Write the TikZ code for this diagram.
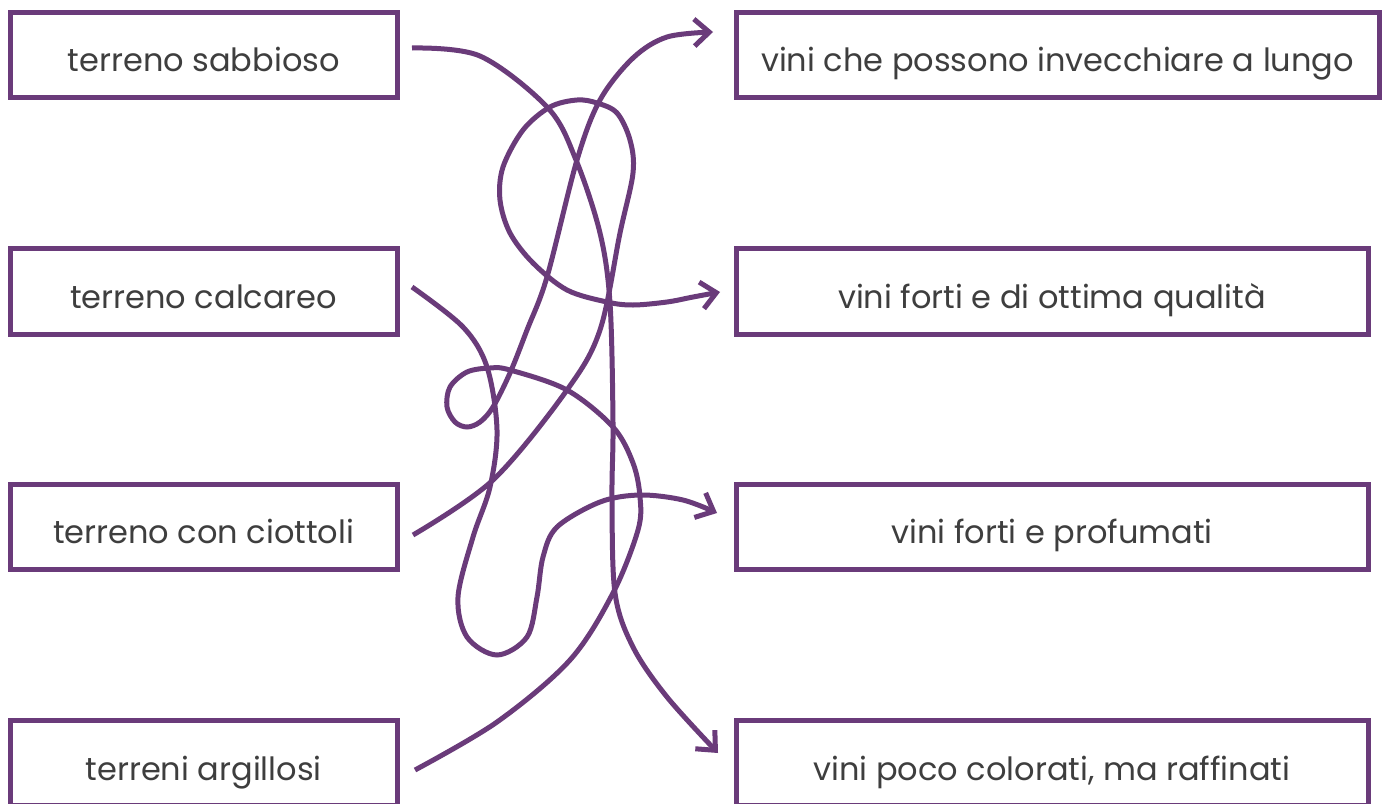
\documentclass[tikz,border=0pt]{standalone}
\usepackage{fontspec}
\setmainfont{Poppins}
\usetikzlibrary{arrows.meta}
\definecolor{plum}{HTML}{6A3B7A}
\definecolor{ink}{HTML}{3E3E3E}
\tikzset{
  box/.style={draw=plum, line width=5pt, rectangle, inner sep=0pt,
    minimum height=85.5pt, text height=34pt, text depth=0pt,
    text=ink, font=\fontsize{32}{38}\selectfont},
  leftbox/.style={box, minimum width=387.5pt},
  rightbox/.style={box, minimum width=632pt},
  link/.style={draw=plum, line width=5pt,
    -{Straight Barb[length=15pt, width=27pt, line join=miter]}},
}
\begin{document}
\begin{tikzpicture}[x=1pt, y=-1pt]
  \useasboundingbox (0,0) rectangle (1383,803);
  \fill[white] (0,0) rectangle (1383,803);

  % soils
  \node[leftbox] (sab) at (203.75,54.75) {terreno sabbioso};
  \node[leftbox] (cal) at (203.75,291.25) {terreno calcareo};
  \node[leftbox] (cio) at (203.75,526.75) {terreno con ciottoli};
  \node[leftbox] (arg) at (203.75,763) {terreni argillosi};

  % wines
  \node[rightbox, minimum width=643pt] (lun) at (1057.5,54.75) {vini che possono invecchiare a lungo};
  \node[rightbox] (ott) at (1052,291.25) {vini forti e di ottima qualità};
  \node[rightbox] (pro) at (1052,526.75) {vini forti e profumati};
  \node[rightbox] (raf) at (1052,763) {vini poco colorati, ma raffinati};

  % loose ends of the tangled links
  \coordinate (sabout) at (412,48);
  \coordinate (calout) at (412,287);
  \coordinate (ciout) at (413,535);
  \coordinate (argout) at (415,770);
  \coordinate (lunin) at (713,32);
  \coordinate (ottin) at (720,292);
  \coordinate (proin) at (717,513);
  \coordinate (rafin) at (718,753);

  % sandy soil -> refined wines
  \draw[link] plot[smooth, tension=0.55] coordinates {
    (sabout) (480,56) (548,108) (576,160) (600,233) (610,303) (613,423)
    (612,497) (615,593) (633,647) (667,697) (rafin)};

  % limestone soil -> strong, fragrant wines
  \draw[link] plot[smooth, tension=0.55] coordinates {
    (calout) (463,327) (487,367) (497,430) (490,487) (473,537) (458,597)
    (467,637) (497,655) (527,637) (537,597) (543,557) (557,527) (600,502)
    (640,495) (683,500) (proin)};

  % pebbly soil -> strong, high-quality wines
  \draw[link] plot[smooth, tension=0.55] coordinates {
    (ciout) (493,480) (567,390) (600,330) (620,233) (633,173) (630,140)
    (617,113) (597,103) (577,100) (550,107) (523,130) (503,167) (500,200)
    (510,233) (533,263) (567,290) (607,302) (633,305) (667,302) (693,297)
    (ottin)};

  % clay soils -> wines for long ageing
  \draw[link] plot[smooth, tension=0.55] coordinates {
    (argout) (497,722) (570,660) (613,593) (638,530) (640,497) (633,463)
    (613,427) (567,390) (510,370) (490,368) (467,372) (450,387) (447,407)
    (455,422) (467,427) (480,422) (493,407) (510,373) (527,330) (547,277)
    (577,160) (600,100) (633,58) (667,37) (lunin)};
\end{tikzpicture}
\end{document}
